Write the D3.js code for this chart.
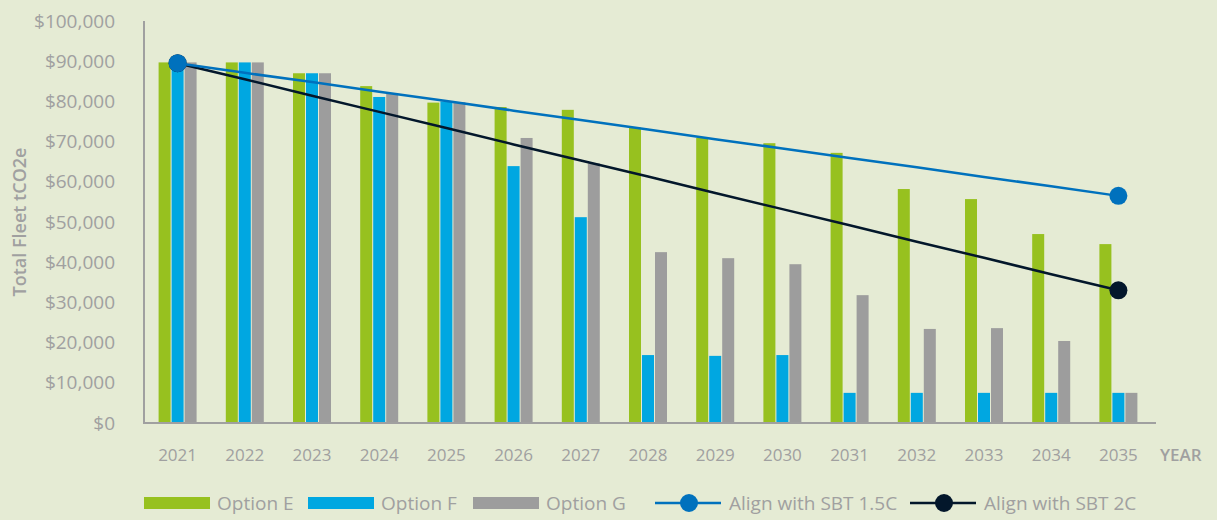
<!DOCTYPE html>
<html>
<head>
<meta charset="utf-8">
<script src="https://cdn.jsdelivr.net/npm/d3@7"></script>
<style>
  html, body { margin: 0; padding: 0; background: #e5ebd4; }
  svg { display: block; font-family: "Open Sans", Lato, sans-serif; }
</style>
</head>
<body>
<svg id="chart" width="1217" height="520"></svg>
<script>
const years = ['2021', '2022', '2023', '2024', '2025', '2026', '2027', '2028', '2029', '2030', '2031', '2032', '2033', '2034', '2035'];
const optionE = [89700, 89700, 87000, 83800, 79700, 78600, 77900, 73500, 70900, 69600, 67200, 58200, 55700, 47000, 44500];
const optionF = [89700, 89700, 87000, 81100, 80000, 63900, 51200, 16900, 16700, 16900, 7500, 7500, 7500, 7500, 7500];
const optionG = [89700, 89700, 87000, 82000, 79800, 70900, 64600, 42500, 41000, 39500, 31800, 23400, 23600, 20400, 7500];
const sbt15 = [89500, 87100, 84800, 82400, 80100, 77700, 75400, 73000, 70600, 68300, 65900, 63600, 61200, 58900, 56500];
const sbt2 = [89500, 85500, 81400, 77400, 73400, 69300, 65300, 61300, 57200, 53200, 49200, 45100, 41100, 37000, 33000];
const yTicks = [0, 10000, 20000, 30000, 40000, 50000, 60000, 70000, 80000, 90000, 100000];

(function() {
const svg = d3.select('svg#chart');
const textColor = '#a0a0a0';
const colors = { E: '#97c11f', F: '#00a7e1', G: '#9d9d9d', s15: '#0071bd', s2: '#03172b' };

const xScale = d3.scaleBand().domain(years).range([144, 1152]);
const yScale = d3.scaleLinear().domain([0, 100000]).range([423, 21]);
const cx = d => xScale(d) + xScale.bandwidth() / 2;

// y axis labels
svg.append('g').selectAll('text')
  .data(yTicks).join('text')
  .attr('x', 115).attr('y', d => yScale(d))
  .attr('dy', '0.35em')
  .attr('text-anchor', 'end')
  .attr('fill', textColor)
  .attr('font-size', 19)
  .text(d => '$' + d3.format(',')(d));

svg.append('text')
  .attr('transform', 'translate(26,222) rotate(-90)')
  .attr('text-anchor', 'middle')
  .attr('fill', textColor)
  .attr('font-size', 18)
  .attr('font-weight', 600)
  .text('Total Fleet tCO2e');

// bars
const series = [
  { key: 'E', values: optionE, off: -19 },
  { key: 'F', values: optionF, off: -6 },
  { key: 'G', values: optionG, off: 7 },
];
series.forEach(s => {
  svg.append('g').selectAll('rect')
    .data(years).join('rect')
    .attr('x', (d, i) => cx(d) + s.off)
    .attr('width', 12)
    .attr('y', (d, i) => yScale(s.values[i]))
    .attr('height', (d, i) => yScale(0) - yScale(s.values[i]))
    .attr('fill', colors[s.key]);
});

// axes lines
svg.append('line')
  .attr('x1', 144).attr('x2', 144)
  .attr('y1', yScale(100000)).attr('y2', yScale(0) + 1)
  .attr('stroke', textColor).attr('stroke-width', 2);
svg.append('line')
  .attr('x1', 143).attr('x2', 1156)
  .attr('y1', yScale(0)).attr('y2', yScale(0))
  .attr('stroke', textColor).attr('stroke-width', 2);

// x labels
svg.append('g').selectAll('text')
  .data(years).join('text')
  .attr('x', d => cx(d)).attr('y', 461)
  .attr('text-anchor', 'middle')
  .attr('fill', textColor)
  .attr('font-size', 17)
  .text(d => d);
svg.append('text')
  .attr('x', 1160).attr('y', 461)
  .attr('fill', textColor)
  .attr('font-size', 17)
  .attr('font-weight', 600)
  .text('YEAR');

// lines
const line = d3.line().x(d => cx(d.year)).y(d => yScale(d.v));
[
  { values: sbt2, color: colors.s2 },
  { values: sbt15, color: colors.s15 },
].forEach(s => {
  const pts = years.map((y, i) => ({ year: y, v: s.values[i] }));
  svg.append('path')
    .datum(pts)
    .attr('d', line)
    .attr('fill', 'none')
    .attr('stroke', s.color)
    .attr('stroke-width', 2.5);
  const ends = [pts[0], pts[pts.length - 1]];
  svg.append('g').selectAll('circle')
    .data(ends).join('circle')
    .attr('cx', d => cx(d.year)).attr('cy', d => yScale(d.v))
    .attr('r', 9)
    .attr('fill', s.color);
});

// legend
const legend = svg.append('g').attr('font-size', 19).attr('fill', textColor);
const boxes = [
  { x: 144, label: 'Option E', color: colors.E },
  { x: 308, label: 'Option F', color: colors.F },
  { x: 473, label: 'Option G', color: colors.G },
];
boxes.forEach(b => {
  legend.append('rect')
    .attr('x', b.x).attr('y', 497)
    .attr('width', 66).attr('height', 12)
    .attr('fill', b.color);
  legend.append('text')
    .attr('x', b.x + 73).attr('y', 503)
    .attr('dy', '0.35em')
    .text(b.label);
});
const lineItems = [
  { x: 655, label: 'Align with SBT 1.5C', color: colors.s15 },
  { x: 910, label: 'Align with SBT 2C', color: colors.s2 },
];
lineItems.forEach(b => {
  legend.append('line')
    .attr('x1', b.x).attr('x2', b.x + 66)
    .attr('y1', 503).attr('y2', 503)
    .attr('stroke', b.color).attr('stroke-width', 2.5);
  legend.append('circle')
    .attr('cx', b.x + 34).attr('cy', 503)
    .attr('r', 9).attr('fill', b.color);
  legend.append('text')
    .attr('x', b.x + 74).attr('y', 503)
    .attr('dy', '0.35em')
    .text(b.label);
});
})();
</script>
</body>
</html>
